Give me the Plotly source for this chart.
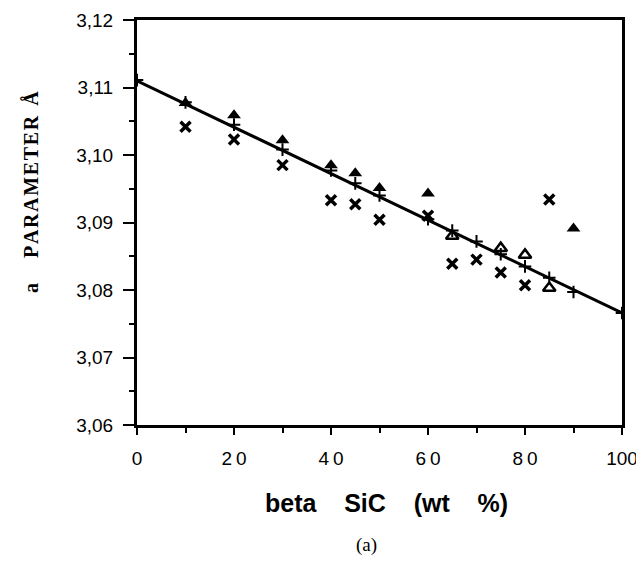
import plotly.graph_objects as go

# ---- data ----
x_cross = [10, 20, 30, 40, 45, 50, 60, 65, 70, 75, 80, 85]
y_cross = [3.1042, 3.1023, 3.0985, 3.0933, 3.0927, 3.0904, 3.0910, 3.0839, 3.0845, 3.0826, 3.0807, 3.0934]

x_tri = [10, 20, 30, 40, 45, 50, 60, 90]
y_tri = [3.1077, 3.1059, 3.1022, 3.0985, 3.0973, 3.0951, 3.0943, 3.0891]

x_tri_open = [65, 75, 80, 85]
y_tri_open = [3.0880, 3.0862, 3.0852, 3.0803]

x_plus = [0, 10, 20, 30, 40, 45, 50, 60, 65, 70, 75, 80, 85, 90, 100]
y_plus = [3.1111, 3.1078, 3.1045, 3.1008, 3.0977, 3.0958, 3.0940, 3.0905, 3.0888,
          3.0872, 3.0853, 3.0835, 3.0818, 3.0797, 3.0766]

x_fit = [0, 100]
y_fit = [3.1110, 3.0766]

y_tickvals = [3.06, 3.07, 3.08, 3.09, 3.10, 3.11, 3.12]
y_ticktext = ["3,06", "3,07", "3,08", "3,09", "3,10", "3,11", "3,12"]
x_tickvals = [0, 20, 40, 60, 80, 100]
x_ticktext = ["0", "2\u20090", "4\u20090", "6\u20090", "8\u20090", "100"]

x_title = "beta\u00a0\u00a0\u00a0\u00a0SiC\u00a0\u00a0\u00a0\u00a0(wt\u00a0\u00a0\u00a0\u00a0%)"
y_title = "a\u00a0\u00a0\u00a0\u00a0\u00a0" + "\u200a".join("PARAMETER") + "\u00a0\u00a0Å"
caption = "(a)"

fig = go.Figure()
fig.add_trace(go.Scatter(x=x_fit, y=y_fit, mode="lines",
                         line=dict(color="black", width=3), hoverinfo="skip"))
fig.add_trace(go.Scatter(x=x_plus, y=y_plus, mode="markers",
                         marker=dict(symbol="cross-thin", size=9, color="black",
                                     line=dict(color="black", width=2))))
fig.add_trace(go.Scatter(x=x_tri, y=y_tri, mode="markers",
                         marker=dict(symbol="triangle-up", size=12, color="black")))
fig.add_trace(go.Scatter(x=x_tri_open, y=y_tri_open, mode="markers",
                         marker=dict(symbol="triangle-up-open", size=11, color="black",
                                     line=dict(color="black", width=2.5))))
fig.add_trace(go.Scatter(x=x_cross, y=y_cross, mode="markers",
                         marker=dict(symbol="x-thin", size=10, color="black",
                                     line=dict(color="black", width=3.5))))

tick_font = dict(family="Liberation Sans, Arial, sans-serif", size=19, color="black")

# the page adds an 8px body margin, so the figure is offset by 8px
fig.update_layout(
    template="none",
    width=636, height=547,
    margin=dict(l=129, r=22, t=12, b=130, pad=0),
    paper_bgcolor="white", plot_bgcolor="white",
    showlegend=False,
    xaxis=dict(range=[0, 100], tickvals=x_tickvals, ticktext=x_ticktext,
               ticks="outside", ticklen=7, tickwidth=2, tickcolor="black",
               minor=dict(dtick=10, ticks="outside", ticklen=5, tickwidth=2, tickcolor="black"),
               showline=True, linewidth=3, linecolor="black", mirror=True,
               showgrid=False, zeroline=False, tickfont=tick_font,
               ticklabelstandoff=7, automargin=False, ticklabeloverflow="allow"),
    yaxis=dict(range=[3.06, 3.12], tickvals=y_tickvals, ticktext=y_ticktext,
               ticks="outside", ticklen=11, tickwidth=2, tickcolor="black",
               minor=dict(dtick=0.005, tick0=3.06, ticks="outside", ticklen=5, tickwidth=2,
                          tickcolor="black"),
               showline=True, linewidth=3, linecolor="black", mirror=True,
               showgrid=False, zeroline=False, tickfont=tick_font,
               ticklabelstandoff=6, automargin=False),
    annotations=[
        dict(text=x_title, xref="paper", yref="paper",
             x=(386 - 137) / 485, y=(425 - 503) / 405, xanchor="center", yanchor="middle",
             showarrow=False,
             font=dict(family="Liberation Sans, Arial, sans-serif", size=25, color="black",
                       weight="bold")),
        dict(text=caption, xref="paper", yref="paper",
             x=(366 - 137) / 485, y=(425 - 545) / 405, xanchor="center", yanchor="middle",
             showarrow=False,
             font=dict(family="Liberation Serif, Times New Roman, serif", size=19, color="black")),
        dict(text=y_title, xref="paper", yref="paper", textangle=-90,
             x=(31 - 137) / 485, y=(425 - 192) / 405, xanchor="center", yanchor="middle",
             showarrow=False,
             font=dict(family="Liberation Serif, Times New Roman, serif", size=20, color="black",
                       weight="bold")),
    ],
)

fig.write_html("out.html")
